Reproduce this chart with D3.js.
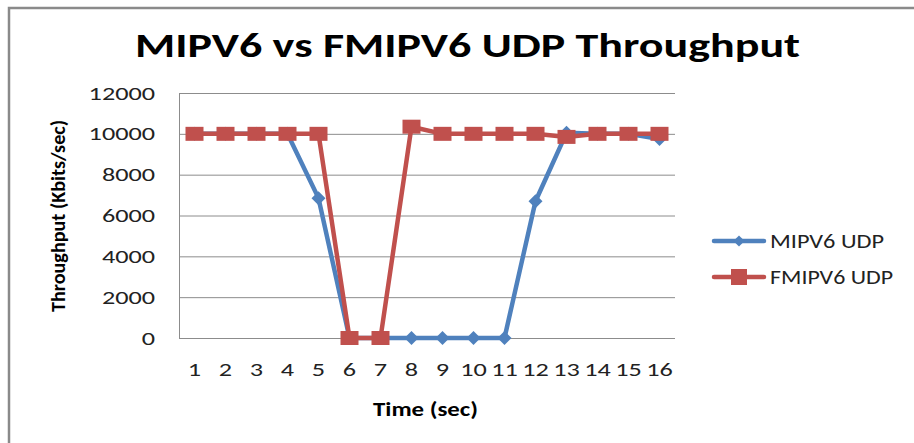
<!DOCTYPE html>
<html>
<head>
<meta charset="utf-8">
<script src="https://cdn.jsdelivr.net/npm/d3@7"></script>
<style>
  body { margin: 0; background: #fff; }
  text { font-family: Carlito, Lato, "Open Sans", sans-serif; }
</style>
</head>
<body>
<script>
// chart data
var times = [1, 2, 3, 4, 5, 6, 7, 8, 9, 10, 11, 12, 13, 14, 15, 16];
var mipv6 = [10000, 10000, 10000, 10000, 6850, 0, 0, 0, 0, 0, 0, 6700, 10050, 10000, 10000, 9750];
var fmipv6 = [10000, 10000, 10000, 10000, 10000, 0, 0, 10350, 10000, 10000, 10000, 10000, 9850, 10000, 10000, 10000];
var yTicks = [0, 2000, 4000, 6000, 8000, 10000, 12000];
var seriesNames = ["MIPV6 UDP", "FMIPV6 UDP"];
var seriesColors = ["#4F81BD", "#C0504D"];

var W = 914, H = 443;
var stretch = 1.38; // the picture is wider than the font, so text is stretched
var svg = d3.select("body").append("svg").attr("width", W).attr("height", H);

// outer frame (runs off right / bottom)
svg.append("path").attr("d", "M9,450 V8 H920").attr("fill", "none")
  .attr("stroke", "#8a8a8a").attr("stroke-width", 2.5);

var x = d3.scaleBand().domain(times).range([179, 675]);
var y = d3.scaleLinear().domain([0, 12000]).range([338, 93]);

// gridlines
svg.append("g").selectAll("line").data(yTicks).enter().append("line")
  .attr("x1", 179).attr("x2", 675)
  .attr("y1", function(d) { return y(d) + 0.5; })
  .attr("y2", function(d) { return y(d) + 0.5; })
  .attr("stroke", "#8c8c8c").attr("stroke-width", 1);

svg.append("line").attr("x1", 179.5).attr("x2", 179.5).attr("y1", 93).attr("y2", 338)
  .attr("stroke", "#8c8c8c");

// axes labels through d3 axes
var yAxis = svg.append("g").attr("transform", "translate(179,0)")
  .call(d3.axisLeft(y).tickValues(yTicks).tickFormat(d3.format("d")).tickSize(0));
yAxis.select(".domain").remove();
yAxis.selectAll("text").attr("x", -24 / stretch).attr("font-size", 19).attr("fill", "#222")
  .attr("transform", "scale(" + stretch + ",1)")
  .style("font-family", "Carlito, Lato, sans-serif");

var xAxis = svg.append("g").attr("transform", "translate(0,338)")
  .call(d3.axisBottom(x).tickSize(0).tickPadding(25));
xAxis.select(".domain").remove();
xAxis.selectAll("text").attr("font-size", 19).attr("fill", "#222")
  .attr("transform", "scale(" + stretch + ",1)")
  .style("font-family", "Carlito, Lato, sans-serif");

// series
var line = d3.line()
  .x(function(d, i) { return x(times[i]) + x.bandwidth() / 2; })
  .y(function(d) { return y(d); });

var allSeries = [mipv6, fmipv6];
allSeries.forEach(function(vals, s) {
  svg.append("path").datum(vals).attr("d", line).attr("fill", "none")
    .attr("stroke", seriesColors[s]).attr("stroke-width", 4.5).attr("stroke-linejoin", "round");
});

// diamonds for MIPV6
svg.append("g").selectAll("path").data(mipv6).enter().append("path")
  .attr("d", d3.symbol().type(d3.symbolDiamond2).size(125))
  .attr("transform", function(d, i) {
    return "translate(" + (x(times[i]) + x.bandwidth() / 2) + "," + y(d) + ")";
  })
  .attr("fill", seriesColors[0]);

// squares for FMIPV6
svg.append("g").selectAll("rect").data(fmipv6).enter().append("rect")
  .attr("x", function(d, i) { return x(times[i]) + x.bandwidth() / 2 - 9; })
  .attr("y", function(d) { return y(d) - 7; })
  .attr("width", 18).attr("height", 14)
  .attr("fill", seriesColors[1]);

// title
svg.append("text").attr("x", 135).attr("y", 57)
  .attr("font-size", 34).attr("font-weight", "bold").attr("fill", "#000")
  .attr("textLength", 665).attr("lengthAdjust", "spacingAndGlyphs")
  .text("MIPV6 vs FMIPV6 UDP Throughput");

// axis titles
svg.append("text").attr("x", 373).attr("y", 416)
  .attr("font-size", 19.5).attr("font-weight", "bold").attr("fill", "#000")
  .attr("textLength", 105).attr("lengthAdjust", "spacingAndGlyphs")
  .text("Time (sec)");

svg.append("text").attr("transform", "translate(65,312) rotate(-90)")
  .attr("font-size", 21).attr("font-weight", "bold").attr("fill", "#000")
  .attr("textLength", 192).attr("lengthAdjust", "spacingAndGlyphs")
  .text("Throughput (Kbits/sec)");

// legend
var legendWidths = [114, 123];
var leg = svg.append("g");
seriesNames.forEach(function(name, i) {
  var ly = 241 + i * 36;
  leg.append("line").attr("x1", 714).attr("x2", 764).attr("y1", ly).attr("y2", ly)
    .attr("stroke", seriesColors[i]).attr("stroke-width", 4.5).attr("stroke-linecap", "round");
  if (i === 0) {
    leg.append("path").attr("d", d3.symbol().type(d3.symbolDiamond2).size(80))
      .attr("transform", "translate(739," + ly + ")").attr("fill", seriesColors[0]);
  } else {
    leg.append("rect").attr("x", 731).attr("y", ly - 8).attr("width", 16).attr("height", 16)
      .attr("fill", seriesColors[1]);
  }
  leg.append("text").attr("x", 770).attr("y", ly + 6.5).attr("font-size", 19.5).attr("fill", "#222")
    .attr("textLength", legendWidths[i]).attr("lengthAdjust", "spacingAndGlyphs")
    .text(name);
});
</script>
</body>
</html>
